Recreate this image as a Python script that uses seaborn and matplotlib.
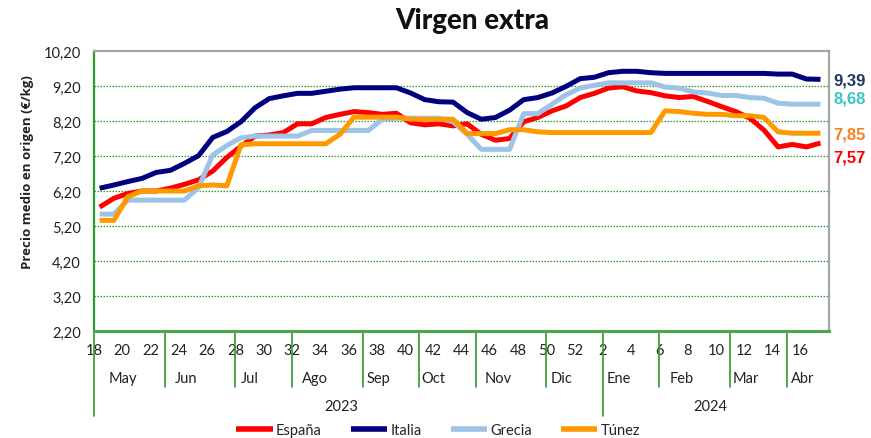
import matplotlib
matplotlib.use("Agg")
import matplotlib.pyplot as plt
import matplotlib.transforms as mtransforms
import numpy as np
import pandas as pd
import seaborn as sns

# ---------------- data ----------------
weeks = list(range(18, 53)) + list(range(1, 18))
espana = [5.74, 5.99, 6.13, 6.20, 6.20, 6.28, 6.39, 6.52, 6.77, 7.16,
          7.48, 7.77, 7.80, 7.87, 8.12, 8.12, 8.30, 8.39, 8.47, 8.44,
          8.39, 8.42, 8.15, 8.09, 8.12, 8.06, 8.12, 7.82, 7.65, 7.70,
          8.18, 8.30, 8.49, 8.63, 8.87, 8.99, 9.14, 9.18, 9.06, 9.01,
          8.92, 8.87, 8.90, 8.76, 8.61, 8.47, 8.28, 7.94, 7.46, 7.53,
          7.46, 7.57]
italia = [6.28, 6.37, 6.47, 6.56, 6.73, 6.79, 6.99, 7.21, 7.73, 7.90,
          8.18, 8.58, 8.84, 8.92, 8.99, 8.99, 9.05, 9.11, 9.15, 9.15,
          9.15, 9.15, 9.00, 8.81, 8.75, 8.74, 8.44, 8.25, 8.30, 8.51,
          8.81, 8.87, 9.00, 9.19, 9.41, 9.45, 9.58, 9.62, 9.62, 9.58,
          9.56, 9.56, 9.56, 9.56, 9.56, 9.56, 9.56, 9.56, 9.54, 9.54,
          9.40, 9.39]
grecia = [5.54, 5.54, 5.94, 5.94, 5.94, 5.94, 5.94, 6.30, 7.23, 7.50,
          7.72, 7.77, 7.77, 7.77, 7.77, 7.93, 7.93, 7.93, 7.93, 7.93,
          8.25, 8.28, 8.28, 8.28, 8.28, 8.18, 7.82, 7.39, 7.39, 7.39,
          8.41, 8.41, 8.68, 8.95, 9.14, 9.22, 9.29, 9.29, 9.29, 9.29,
          9.17, 9.14, 9.03, 9.00, 8.93, 8.93, 8.87, 8.85, 8.71, 8.68,
          8.68, 8.68]
tunez = [5.36, 5.36, 6.04, 6.20, 6.20, 6.20, 6.20, 6.35, 6.37, 6.35,
         7.52, 7.55, 7.55, 7.55, 7.55, 7.55, 7.55, 7.82, 8.31, 8.31,
         8.31, 8.31, 8.25, 8.25, 8.25, 8.25, 7.84, 7.84, 7.84, 7.95,
         7.95, 7.89, 7.87, 7.87, 7.87, 7.87, 7.87, 7.87, 7.87, 7.87,
         8.49, 8.47, 8.42, 8.39, 8.39, 8.35, 8.35, 8.30, 7.89, 7.85,
         7.85, 7.85]

countries = ["España", "Italia", "Grecia", "Túnez"]
line_colors = ["#ff0000", "#00007f", "#9dc3e6", "#ff9900"]
end_labels = ["9,39", "8,68", "7,85", "7,57"]
end_colors = ["#1f3864", "#3cc4c4", "#f58220", "#ff0000"]
end_label_y = [9.36, 8.86, 7.83, 7.17]

months = ["May", "Jun", "Jul", "Ago", "Sep", "Oct", "Nov", "Dic",
          "Ene", "Feb", "Mar", "Abr"]
month_bounds = [0, 5, 10, 14, 19, 23, 27, 32, 36, 40, 45, 49]
month_label_x = [2.06, 6.5, 11.0, 15.6, 20.1, 24.0, 28.6, 33.1, 37.1,
                 41.6, 46.1, 50.1]
years = ["2023", "2024"]
year_bounds = [0, 36]
year_label_x = [17.5, 43.6]
yticks = [2.2, 3.2, 4.2, 5.2, 6.2, 7.2, 8.2, 9.2, 10.2]

# ---------------- frame ----------------
n = len(weeks)
xpos = np.arange(n) + 0.4
df = pd.DataFrame({
    "x": np.tile(xpos, 4),
    "precio": espana + italia + grecia + tunez,
    "pais": np.repeat(countries, n),
})

sns.set_style("white")
plt.rcParams["font.family"] = ["Lato", "DejaVu Sans"]

fig = plt.figure(figsize=(8.71, 4.39), dpi=100)
ax = fig.add_axes([0.10792, 0.24374, 0.84386, 0.63781])

sns.lineplot(data=df, x="x", y="precio", hue="pais", palette=dict(zip(countries, line_colors)),
             linewidth=3.6, ax=ax, sort=False, estimator=None)
for ln in ax.lines:
    ln.set_solid_joinstyle("round")
    ln.set_solid_capstyle("butt")

ax.set_xlim(0, 52)
ax.set_ylim(2.2, 10.2)

green = "#2e9a2e"
tick_fs = 10.5
ax.set_yticks(yticks)
ax.set_yticklabels([f"{v:.2f}".replace(".", ",") for v in yticks], fontsize=tick_fs, color="#222222")
ax.tick_params(axis="y", direction="inout", length=7, width=1, color=green, pad=6)
for v in yticks[1:-1]:
    ax.axhline(v, color=green, lw=0.9, ls=(0, (1.2, 1.2)), zorder=0)

week_ticks = list(range(0, 53, 2))
ax.set_xticks(week_ticks)
ax.set_xticklabels([str(weeks[i]) if i < n else "" for i in week_ticks], fontsize=tick_fs, color="#222222")
ax.tick_params(axis="x", direction="out", length=20, width=1.2, color="#55b055", pad=-11.5)

for side in ["top", "right"]:
    ax.spines[side].set_color("#a6a6a6")
    ax.spines[side].set_linewidth(1.6)
ax.spines["left"].set_color(green)
ax.spines["left"].set_linewidth(1.6)
ax.spines["bottom"].set_color("#4aa84a")
ax.spines["bottom"].set_linewidth(2.2)

ax.set_xlabel("")
ax.set_ylabel("")

trans = ax.get_xaxis_transform()
for b in month_bounds:
    bottom = -0.304 if b in year_bounds else -0.2
    ax.plot([b, b], [0, bottom], color=green, lw=1.2, transform=trans, clip_on=False)
for lab, xm in zip(months, month_label_x):
    ax.text(xm, -0.168, lab, transform=trans, ha="center", va="center", fontsize=tick_fs, color="#222222")
for lab, xy in zip(years, year_label_x):
    ax.text(xy, -0.268, lab, transform=trans, ha="center", va="center", fontsize=tick_fs, color="#222222")

# end labels
tr2 = mtransforms.blended_transform_factory(ax.transAxes, ax.transData)
for lab, col, yv in zip(end_labels, end_colors, end_label_y):
    ax.text(1.006, yv, lab, transform=tr2, ha="left", va="center", fontsize=12,
            fontweight="bold", color=col, family=["Liberation Sans", "DejaVu Sans"])

# legend
handles, labels = ax.get_legend_handles_labels()
if ax.get_legend() is not None:
    ax.get_legend().remove()
for h in handles:
    h.set_linewidth(4)
fig.legend(handles, labels, loc="center", bbox_to_anchor=(0.503, 0.018), ncol=4,
           frameon=False, fontsize=tick_fs, handlelength=2.5, handletextpad=0.2,
           columnspacing=2.0)

fig.text(0.542, 0.952, "Virgen extra", ha="center", va="center", fontsize=20,
         fontweight="black", color="#111111")
fig.text(0.031, 0.607, "Precio medio en origen (€/kg)", rotation=90, ha="center",
         va="center", fontsize=9.5, fontweight="bold", color="#222222",
         family=["Open Sans", "DejaVu Sans"])

fig.savefig("out.png", dpi=100)
